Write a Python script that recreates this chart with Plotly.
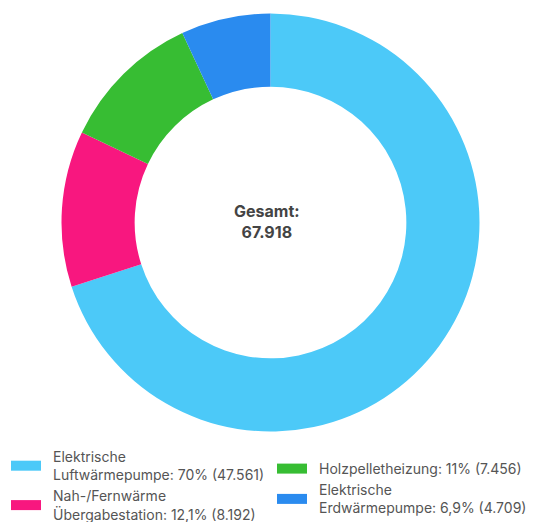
import plotly.graph_objects as go

# Heating systems and number of installations
categories = [
    "Elektrische Luftwärmepumpe",
    "Nah-/Fernwärme Übergabestation",
    "Holzpelletheizung",
    "Elektrische Erdwärmepumpe",
]
values = [47561, 8192, 7456, 4709]
colors = ["#4cc9f8", "#f8177f", "#37bd33", "#2a8bef"]
# legend column for each category (left / right)
legend_column = ["legend", "legend", "legend2", "legend2"]

W, H = 534, 522
FONT = "Inter"
TEXT_COLOR = "#555555"
PAD = "\u2002"  # extra gap between swatch and legend text

total = sum(values)


def de_int(n):
    return f"{n:,}".replace(",", ".")


def de_pct(v):
    p = round(v / total * 100, 1)
    s = f"{p:.1f}".replace(".", ",")
    if s.endswith(",0"):
        s = s[:-2]
    return s + "%"


labels = [
    PAD + f"{c.replace(' ', '<br>' + PAD, 1)}: {de_pct(v)} ({de_int(v)})"
    for c, v in zip(categories, values)
]

fig = go.Figure()

# donut chart
cx, cy, R = 270.5, 222.5, 209.0
fig.add_trace(go.Pie(
    labels=categories,
    values=values,
    hole=0.65,
    sort=False,
    direction="clockwise",
    rotation=0,
    marker=dict(colors=colors, line=dict(width=0)),
    textinfo="none",
    hoverinfo="label+value+percent",
    showlegend=False,
    domain=dict(x=[(cx - R) / W, (cx + R) / W],
                y=[1 - (cy + R) / H, 1 - (cy - R) / H]),
))

# legend entries (two columns)
for lab, col, leg in zip(labels, colors, legend_column):
    fig.add_trace(go.Scatter(
        x=[None], y=[None], mode="lines", name=lab,
        line=dict(color=col, width=10),
        legend=leg, legendgroup=lab, hoverinfo="skip",
    ))

fig.add_annotation(
    x=267 / W, y=1 - 221 / H, xref="paper", yref="paper",
    text="<b>Gesamt:<br>" + de_int(total) + "</b>",
    showarrow=False, xanchor="center", yanchor="middle",
    font=dict(family=FONT, size=16, color="#444444"),
)

legend_common = dict(
    orientation="v", xanchor="left", yanchor="top",
    bgcolor="rgba(0,0,0,0)", borderwidth=0,
    font=dict(family=FONT, size=14, color=TEXT_COLOR),
    itemclick=False, itemdoubleclick=False,
    traceorder="normal",
)

fig.update_layout(
    width=W, height=H,
    margin=dict(l=0, r=0, t=0, b=0, autoexpand=False),
    paper_bgcolor="white", plot_bgcolor="white",
    xaxis=dict(visible=False), yaxis=dict(visible=False),
    legend=dict(x=6 / W, y=1 - 441 / H, tracegroupgap=0, **legend_common),
    legend2=dict(x=272 / W, y=1 - 453 / H, tracegroupgap=0, **legend_common),
    showlegend=True,
)

fig.write_html("out.html")
